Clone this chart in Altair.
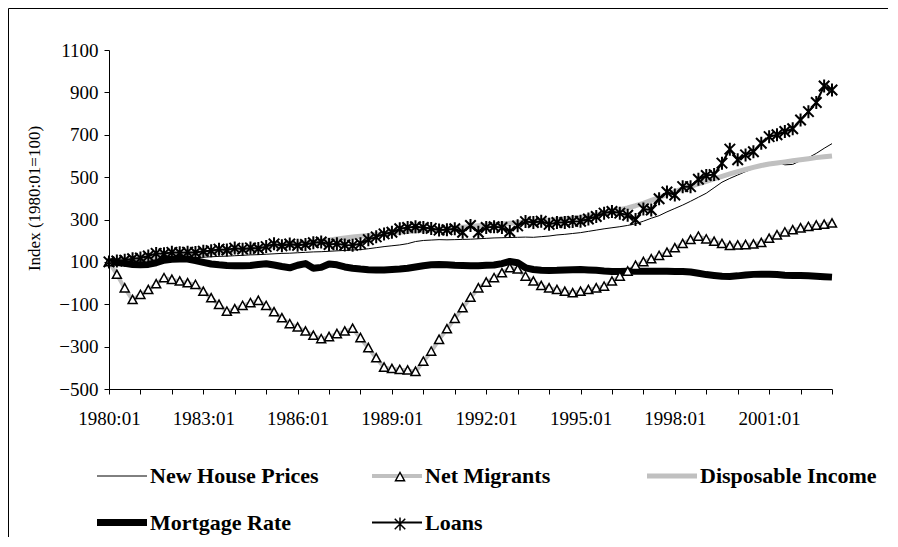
import altair as alt
import pandas as pd

# ---------------- data ----------------
quarters = [f"{1980 + k // 4}:{k % 4 + 1:02d}" for k in range(93)]
tick_quarters = quarters[::4]
label_quarters = ["1980:01", "1983:01", "1986:01", "1989:01", "1992:01",
                  "1995:01", "1998:01", "2001:01"]
y_ticks = [-500, -300, -100, 100, 300, 500, 700, 900, 1100]

series_names = ["New House Prices", "Net Migrants", "Disposable Income",
                "Mortgage Rate", "Loans"]

new_house_prices = [
    100, 102, 104, 106, 108, 110, 112, 114, 116, 118,
    119, 120, 122, 124, 126, 127, 129, 131, 133, 134,
    136, 138, 140, 141, 143, 145, 147, 148, 150, 152,
    154, 156, 158, 162, 167, 172, 176, 180, 186, 196,
    201, 203, 205, 204, 205, 206, 207, 209, 211, 213,
    214, 215, 216, 217, 216, 219, 222, 227, 230, 234,
    238, 244, 250, 256, 261, 266, 272, 280, 292, 306,
    318, 336, 352, 368, 386, 405, 424, 450, 476, 494,
    510, 526, 541, 556, 568, 572, 558, 560, 578, 592,
    612, 636, 658]

net_migrants = [
    100, 40, -24, -79, -55, -32, -5, 24, 16, 8,
    0, -8, -40, -71, -102, -134, -123, -107, -94, -83,
    -107, -137, -165, -193, -209, -228, -248, -264, -254, -240,
    -228, -215, -259, -306, -354, -398, -405, -409, -412, -418,
    -370, -323, -267, -217, -168, -118, -68, -24, 3, 24,
    47, 71, 65, 31, 8, -13, -24, -32, -40, -47,
    -40, -32, -24, -16, 8, 31, 55, 82, 100, 113,
    129, 144, 165, 185, 204, 220, 207, 196, 185, 176,
    178, 180, 183, 190, 210, 226, 240, 250, 259, 266,
    272, 276, 282]

disposable_income = [
    100, 103, 106, 109, 112, 116, 120, 124, 128, 131,
    134, 137, 140, 143, 146, 149, 152, 156, 160, 164,
    168, 172, 176, 180, 184, 188, 193, 198, 203, 208,
    213, 217, 221, 225, 229, 233, 237, 240, 243, 246,
    249, 252, 255, 258, 261, 264, 267, 270, 273, 276,
    279, 282, 285, 288, 291, 294, 297, 300, 303, 306,
    310, 316, 322, 330, 338, 346, 355, 365, 376, 390,
    404, 418, 432, 444, 456, 468, 480, 492, 504, 515,
    526, 536, 546, 555, 562, 567, 572, 577, 582, 587,
    592, 596, 600]

mortgage_rate = [
    100, 97, 93, 88, 87, 88, 96, 108, 112, 113,
    113, 106, 98, 90, 86, 83, 82, 82, 83, 88,
    91, 85, 78, 72, 84, 92, 70, 74, 90, 86,
    76, 70, 66, 63, 62, 62, 64, 66, 70, 76,
    82, 86, 88, 86, 84, 83, 82, 82, 84, 85,
    92, 102, 96, 72, 64, 60, 59, 60, 62, 63,
    64, 62, 60, 57, 55, 55, 56, 56, 56, 56,
    56, 56, 55, 55, 52, 46, 40, 36, 32, 31,
    34, 38, 41, 42, 42, 40, 37, 36, 36, 34,
    32, 30, 28]

loans = [
    100, 104, 108, 115, 118, 128, 140, 138, 145, 143,
    146, 144, 150, 153, 160, 156, 165, 160, 166, 163,
    172, 185, 176, 184, 178, 182, 190, 194, 182, 185,
    180, 178, 186, 205, 218, 232, 240, 256, 262, 266,
    262, 258, 250, 252, 256, 240, 272, 240, 262, 266,
    262, 243, 270, 290, 286, 292, 277, 286, 286, 291,
    292, 302, 314, 330, 338, 330, 320, 300, 350, 345,
    398, 430, 416, 455, 455, 490, 508, 512, 566, 632,
    582, 605, 620, 660, 691, 700, 715, 728, 770, 809,
    852, 930, 911]

all_values = [new_house_prices, net_migrants, disposable_income,
              mortgage_rate, loans]

# ---------------- styles ----------------
line_colors = ["#000000", "#c0c0c0", "#c0c0c0", "#000000", "#000000"]
line_widths = [1, 4, 5, 7, 2]
# symbol size 100 -> path unit = 5 px
SYM_SIZE = 100
LINE_SYM = "M-5,0L5,0"
TRI = "M-0.9,0.75L0,-0.9L0.9,0.75Z"
AST = "M0,-1.3L0,1.3M-1.05,-1.05L1.05,1.05M-1.05,1.05L1.05,-1.05"
NONE = "M0,0"
marker_paths = [NONE, TRI, NONE, NONE, AST]
marker_domain = [n + "#" for n in series_names]
FONT = "Liberation Serif"

rows = []
for name, vals in zip(series_names, all_values):
    for q, v in zip(quarters, vals):
        rows.append({"quarter": q, "series": name, "marker": name + "#", "value": v})
df = pd.DataFrame(rows)

W, H = 723, 339
PAD = {"left": 101, "top": 42, "right": 58, "bottom": 148}
label_list = "[" + ",".join(f"'{s}'" for s in label_quarters) + "]"

x_enc = alt.X(
    "quarter:O",
    scale=alt.Scale(type="point", padding=0, domain=quarters),
    axis=alt.Axis(values=tick_quarters, title=None, labelAngle=0, tickSize=5,
                  labelPadding=15,
                  labelExpr=f"indexof({label_list}, datum.value) >= 0 ? datum.value : ''"),
)
y_enc = alt.Y(
    "value:Q",
    scale=alt.Scale(domain=[-500, 1100], nice=False, zero=False),
    axis=alt.Axis(values=y_ticks, format="d", title="Index (1980:01=100)", tickSize=5,
                  labelPadding=6, titleFontSize=17, titleX=-75, titleY=148,
                  titleAngle=270, titleAlign="center", titleBaseline="middle"),
)

legend_common = dict(
    title=None, orient="none", columns=3,
    direction="horizontal", gridAlign="all", columnPadding=35,
    padding=0, symbolSize=SYM_SIZE, symbolOffset=14, labelOffset=17,
    labelFont=FONT, labelFontSize=22, labelFontWeight="bold",
    labelColor="black", labelLimit=0,
)
legend_lines = alt.Legend(symbolType=LINE_SYM, legendX=-12, legendY=413.5,
                          rowPadding=20, **legend_common)
legend_marks = alt.Legend(labelOpacity=0, labelExpr="replace(datum.label, '#', '')",
                          symbolStrokeWidth=1.5, legendX=1, legendY=416,
                          rowPadding=25, **legend_common)

border_top = alt.Chart(pd.DataFrame({"f": [0]})).mark_rule(
    stroke="black", strokeWidth=1
).encode(x=alt.value(-100.5), x2=alt.value(W + PAD["right"] - 2), y=alt.value(-41.5))
border_left = alt.Chart(pd.DataFrame({"f": [0]})).mark_rule(
    stroke="black", strokeWidth=1
).encode(x=alt.value(-100.5), y=alt.value(-41.5), y2=alt.value(H + PAD["bottom"]))

lines = alt.Chart(df).mark_line(strokeJoin="round").encode(
    x=x_enc, y=y_enc,
    color=alt.Color("series:N", scale=alt.Scale(domain=series_names, range=line_colors),
                    legend=legend_lines),
    strokeWidth=alt.StrokeWidth("series:N",
                                scale=alt.Scale(type="ordinal", domain=series_names, range=line_widths),
                                legend=legend_lines),
)

shape_enc = alt.Shape("marker:N", scale=alt.Scale(domain=marker_domain, range=marker_paths),
                      legend=legend_marks)

tri = alt.Chart(df[df.series == "Net Migrants"]).mark_point(
    filled=False, fill="white", stroke="black", strokeWidth=1.5, size=SYM_SIZE, opacity=1
).encode(x=x_enc, y=y_enc, shape=shape_enc)

ast = alt.Chart(df[df.series == "Loans"]).mark_point(
    filled=False, stroke="black", strokeWidth=2, size=SYM_SIZE, opacity=1
).encode(x=x_enc, y=y_enc, shape=shape_enc)

chart = alt.layer(border_top, border_left, lines, tri, ast).properties(
    width=W, height=H, padding=PAD,
    autosize=alt.AutoSizeParams(type="none"),
).configure_view(stroke=None).configure_axis(
    labelFont=FONT, labelFontSize=19, labelColor="black",
    domainColor="black", tickColor="black", grid=False,
    titleFont=FONT, titleFontWeight="normal", titleColor="black",
)

chart.save("out.html", embed_options={"renderer": "svg", "actions": False})
